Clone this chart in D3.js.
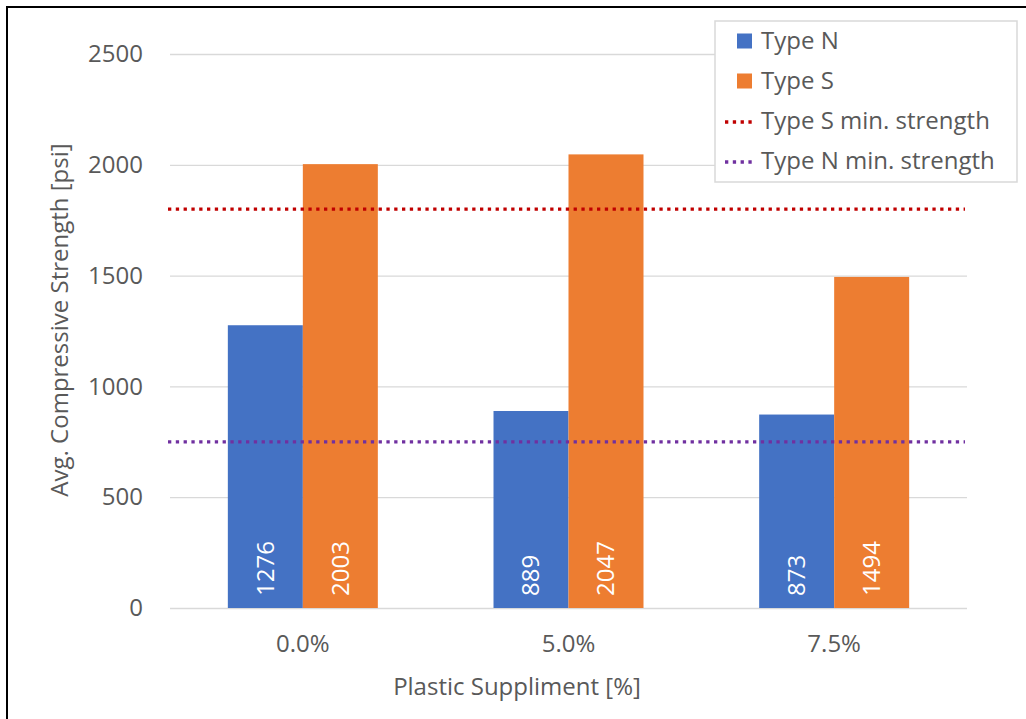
<!DOCTYPE html>
<html>
<head>
<meta charset="utf-8">
<script src="https://cdn.jsdelivr.net/npm/d3@7"></script>
<style>
  html, body { margin: 0; padding: 0; background: #fff; }
  svg { display: block; }
  text { font-family: "Open Sans", "Noto Sans", sans-serif; }
</style>
</head>
<body>
<svg id="chart" width="1026" height="719"></svg>
<script>
// Compressive strength of mortar by plastic supplement level
const categories = ["0.0%", "5.0%", "7.5%"];
const seriesNames = ["Type N", "Type S"];
const typeN = [1276, 889, 873];
const typeS = [2003, 2047, 1494];
const minStrengthS = 1800;
const minStrengthN = 750;
const yTicks = [0, 500, 1000, 1500, 2000, 2500];
const yTitle = "Avg. Compressive Strength [psi]";
const xTitle = "Plastic Suppliment [%]";

const colors = { "Type N": "#4472C4", "Type S": "#ED7D31" };
const lineColors = { S: "#C00000", N: "#7030A0" };
const textColor = "#595959";
const fontSize = 24;

const svg = d3.select("#chart");
const plot = { left: 170, right: 967, top: 54, bottom: 608 };

const y = d3.scaleLinear().domain([0, 2500]).range([plot.bottom, plot.top]);
const x0 = d3.scaleBand().domain(categories).range([plot.left, plot.right])
  .paddingInner(0.4354).paddingOuter(0.2177);
const x1 = d3.scaleBand().domain(seriesNames).range([0, x0.bandwidth()]).padding(0);

// outer frame (left and top edges)
svg.append("line").attr("x1", 7).attr("x2", 7).attr("y1", 7).attr("y2", 719)
  .attr("stroke", "#000").attr("stroke-width", 2);
svg.append("line").attr("x1", 6).attr("x2", 1026).attr("y1", 7).attr("y2", 7)
  .attr("stroke", "#000").attr("stroke-width", 2);

// gridlines + y tick labels
const yAxis = d3.axisLeft(y).tickValues(yTicks).tickFormat(d3.format("d"))
  .tickSize(-(plot.right - plot.left)).tickPadding(27);
const gy = svg.append("g").attr("transform", `translate(${plot.left},0)`).call(yAxis);
gy.select(".domain").remove();
gy.selectAll(".tick line").attr("stroke", "#D9D9D9").attr("stroke-width", 1.3);
gy.selectAll(".tick text").attr("fill", textColor).attr("font-size", fontSize)
  .attr("font-family", "'Open Sans', 'Noto Sans', sans-serif");

// x tick labels
const xAxis = d3.axisBottom(x0).tickSize(0).tickPadding(27);
const gx = svg.append("g").attr("transform", `translate(0,${plot.bottom})`).call(xAxis);
gx.select(".domain").remove();
gx.selectAll(".tick text").attr("fill", textColor).attr("font-size", fontSize)
  .attr("font-family", "'Open Sans', 'Noto Sans', sans-serif");

// bars
const rows = categories.map((c, i) => ({ cat: c, values: [
  { name: "Type N", value: typeN[i] },
  { name: "Type S", value: typeS[i] }
]}));

const groups = svg.append("g").selectAll("g").data(rows).join("g")
  .attr("transform", d => `translate(${x0(d.cat)},0)`);

groups.selectAll("rect").data(d => d.values).join("rect")
  .attr("x", d => x1(d.name))
  .attr("width", x1.bandwidth())
  .attr("y", d => y(d.value))
  .attr("height", d => y(0) - y(d.value))
  .attr("fill", d => colors[d.name]);

// value labels, rotated inside the base of each bar
groups.selectAll("text.val").data(d => d.values).join("text")
  .attr("class", "val")
  .attr("transform", d => `translate(${x1(d.name) + x1.bandwidth() / 2},${y(0) - 12}) rotate(-90)`)
  .attr("dy", "0.35em")
  .attr("text-anchor", "start")
  .attr("fill", "#fff")
  .attr("font-size", fontSize)
  .text(d => d.value);

// minimum strength reference lines
const refLines = [
  { key: "S", value: minStrengthS },
  { key: "N", value: minStrengthN }
];
svg.append("g").selectAll("line").data(refLines).join("line")
  .attr("x1", plot.left - 2).attr("x2", plot.right - 2)
  .attr("y1", d => y(d.value)).attr("y2", d => y(d.value))
  .attr("stroke", d => lineColors[d.key])
  .attr("stroke-width", 3.3)
  .attr("stroke-dasharray", "3.3 4.5");

// axis titles
svg.append("text")
  .attr("transform", "translate(68,320) rotate(-90)")
  .attr("text-anchor", "middle")
  .attr("fill", textColor).attr("font-size", fontSize)
  .text(yTitle);

svg.append("text")
  .attr("x", 517).attr("y", 695)
  .attr("text-anchor", "middle")
  .attr("fill", textColor).attr("font-size", fontSize)
  .text(xTitle);

// legend
const legend = svg.append("g");
legend.append("rect")
  .attr("x", 715).attr("y", 21).attr("width", 302).attr("height", 161)
  .attr("fill", "#fff").attr("stroke", "#D9D9D9").attr("stroke-width", 1.5);

const legendItems = [
  { label: "Type N", type: "rect", color: colors["Type N"] },
  { label: "Type S", type: "rect", color: colors["Type S"] },
  { label: "Type S min. strength", type: "line", color: lineColors.S },
  { label: "Type N min. strength", type: "line", color: lineColors.N }
];
const li = legend.selectAll("g.item").data(legendItems).join("g")
  .attr("class", "item")
  .attr("transform", (d, i) => `translate(0,${41 + i * 40})`);
li.filter(d => d.type === "rect").append("rect")
  .attr("x", 737).attr("y", -7.5).attr("width", 15).attr("height", 15)
  .attr("fill", d => d.color);
li.filter(d => d.type === "line").append("line")
  .attr("x1", 725).attr("x2", 753).attr("y1", 1).attr("y2", 1)
  .attr("stroke", d => d.color).attr("stroke-width", 3.3)
  .attr("stroke-dasharray", "3.3 4.5");
li.append("text")
  .attr("x", 761).attr("y", 0).attr("dy", "0.35em")
  .attr("fill", textColor).attr("font-size", fontSize)
  .text(d => d.label);
</script>
</body>
</html>
